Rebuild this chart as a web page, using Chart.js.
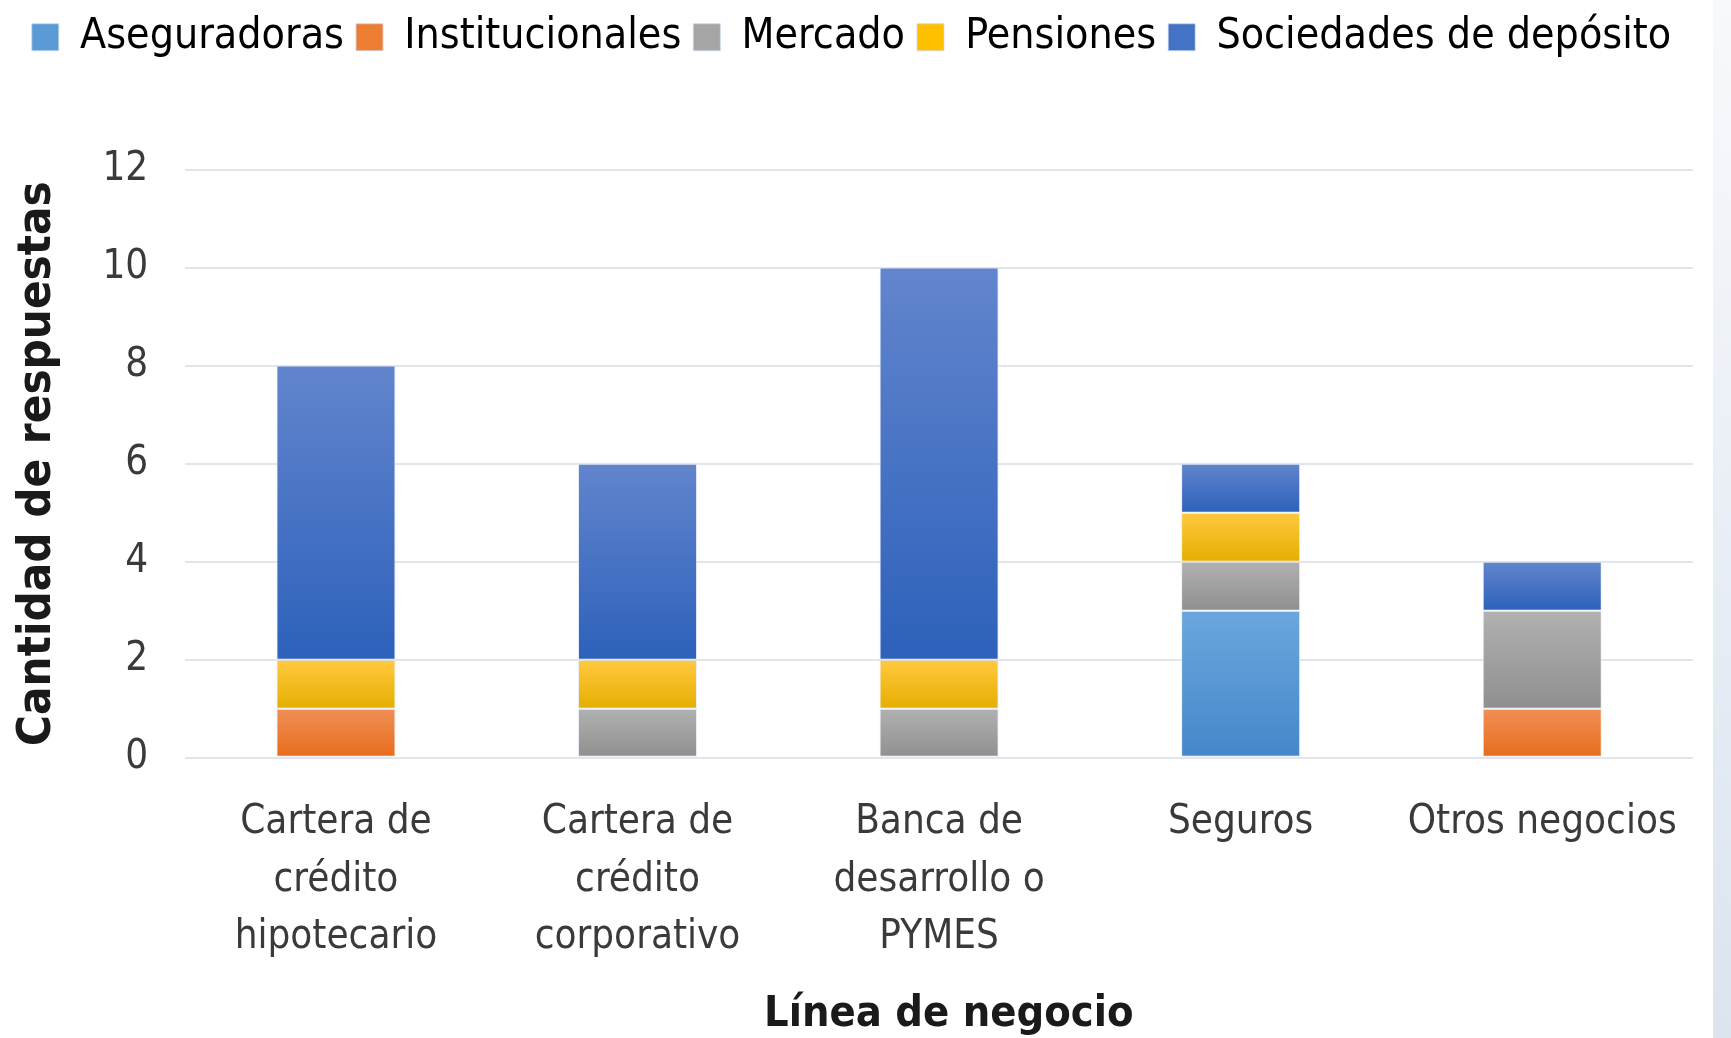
<!DOCTYPE html>
<html>
<head>
<meta charset="utf-8">
<script src="https://cdn.jsdelivr.net/npm/chart.js@4/dist/chart.umd.min.js"></script>
<style>
  html, body { margin: 0; padding: 0; background: #fff; }
  #wrap { position: relative; width: 1731px; height: 1038px; }
  #edge { position: absolute; top: 0; right: 0; width: 18px; height: 1038px;
          background: linear-gradient(#f7f9fc, #dbe4ef); }
</style>
</head>
<body>
<div id="wrap">
  <canvas id="chart" width="1731" height="1038"></canvas>
  <div id="edge"></div>
</div>
<script>
// Categories (x axis), one label per bar; arrays wrap onto several lines.
const CATEGORIES = [
  ['Cartera de', 'crédito', 'hipotecario'],
  ['Cartera de', 'crédito', 'corporativo'],
  ['Banca de', 'desarrollo o', 'PYMES'],
  'Seguros',
  'Otros negocios',
];

// Series values, bottom of the stack first.
const ASEGURADORAS    = [0, 0, 0, 3, 0];
const INSTITUCIONALES = [1, 0, 0, 0, 1];
const MERCADO         = [0, 1, 1, 1, 2];
const PENSIONES       = [1, 1, 1, 1, 0];
const SOCIEDADES      = [6, 4, 8, 1, 1];

const Y_TICKS = [0, 2, 4, 6, 8, 10, 12];

// Office-style colours: [top of segment, bottom of segment, legend swatch]
const COLOR = {
  aseg: ['#6ba7de', '#4487c9', '#5b9bd5'],
  inst: ['#f08f55', '#e76c1a', '#ed7d31'],
  merc: ['#b1b1b1', '#8f8f8f', '#a5a5a5'],
  pens: ['#ffc940', '#e5ae00', '#ffc000'],
  soc:  ['#6285cd', '#2d61bb', '#4472c4'],
};

const FONT = "'Liberation Sans Narrow', 'DejaVu Sans Condensed', 'Open Sans', sans-serif";

const SERIES = [
  { label: 'Aseguradoras', data: ASEGURADORAS, color: COLOR.aseg },
  { label: 'Institucionales', data: INSTITUCIONALES, color: COLOR.inst },
  { label: 'Mercado', data: MERCADO, color: COLOR.merc },
  { label: 'Pensiones', data: PENSIONES, color: COLOR.pens },
  { label: 'Sociedades de depósito', data: SOCIEDADES, color: COLOR.soc },
];

// Vertical gradient per stacked segment, like the Excel fill.
function segmentFill(ctx) {
  const chart = ctx.chart;
  const ds = SERIES[ctx.datasetIndex];
  if (ctx.type !== 'data' || !chart.chartArea) return ds.color[2];
  const i = ctx.dataIndex;
  let base = 0;
  for (let k = 0; k < ctx.datasetIndex; k++) base += SERIES[k].data[i];
  const y = chart.scales.y;
  const top = y.getPixelForValue(base + ds.data[i]);
  const bottom = y.getPixelForValue(base);
  if (!isFinite(top) || !isFinite(bottom) || top === bottom) return ds.color[2];
  const g = chart.ctx.createLinearGradient(0, top, 0, bottom);
  g.addColorStop(0, ds.color[0]);
  g.addColorStop(1, ds.color[1]);
  return g;
}

// Leave a wide gap between the legend row and the plot.
const legendGap = {
  id: 'legendGap',
  beforeInit(chart) {
    const fit = chart.legend.fit;
    chart.legend.fit = function () {
      fit.call(this);
      this.height += 101;
    };
  },
};

new Chart(document.getElementById('chart'), {
  type: 'bar',
  data: {
    labels: CATEGORIES,
    datasets: SERIES.map((s) => ({
      label: s.label,
      data: s.data,
      backgroundColor: segmentFill,
      borderColor: 'rgba(220,228,245,0.6)',
      borderWidth: 1,
      borderSkipped: false,
      barPercentage: 0.395,
      categoryPercentage: 1,
    })),
  },
  plugins: [legendGap],
  options: {
    responsive: false,
    animation: false,
    layout: { padding: { left: 10, right: 38, top: 4, bottom: 0 } },
    plugins: {
      tooltip: { enabled: false },
      legend: {
        position: 'top',
        labels: {
          color: '#262626',
          font: { family: FONT, size: 42.5 },
          boxWidth: 27,
          boxHeight: 27,
          padding: 12,
          generateLabels: () => SERIES.map((s, i) => ({
            text: s.label,
            fillStyle: s.color[2],
            strokeStyle: 'rgba(200,215,240,0.8)',
            lineWidth: 1,
            datasetIndex: i,
          })),
        },
      },
    },
    scales: {
      x: {
        stacked: true,
        grid: { display: false },
        border: { display: false },
        ticks: {
          color: '#3a3a3a',
          font: { family: FONT, size: 40, lineHeight: 1.44 },
          padding: 28,
          maxRotation: 0,
          autoSkip: false,
        },
        title: {
          display: true,
          text: '\u2002Línea de negocio',
          color: '#1a1a1a',
          font: { family: FONT, size: 43, weight: 'bold', lineHeight: 1.08 },
          padding: { top: -3, bottom: 0 },
        },
      },
      y: {
        stacked: true,
        min: 0,
        max: 12,
        afterBuildTicks: (axis) => { axis.ticks = Y_TICKS.map((v) => ({ value: v })); },
        grid: { color: '#e3e5ec', lineWidth: 2, drawTicks: false },
        border: { display: false },
        ticks: {
          color: '#3a3a3a',
          font: { family: FONT, size: 40 },
          padding: 37,
        },
        title: {
          display: true,
          text: 'Cantidad de respuestas',
          color: '#1a1a1a',
          font: { family: FONT, size: 47, weight: 'bold' },
          padding: { top: 0, bottom: -1 },
        },
      },
    },
  },
});
</script>
</body>
</html>
